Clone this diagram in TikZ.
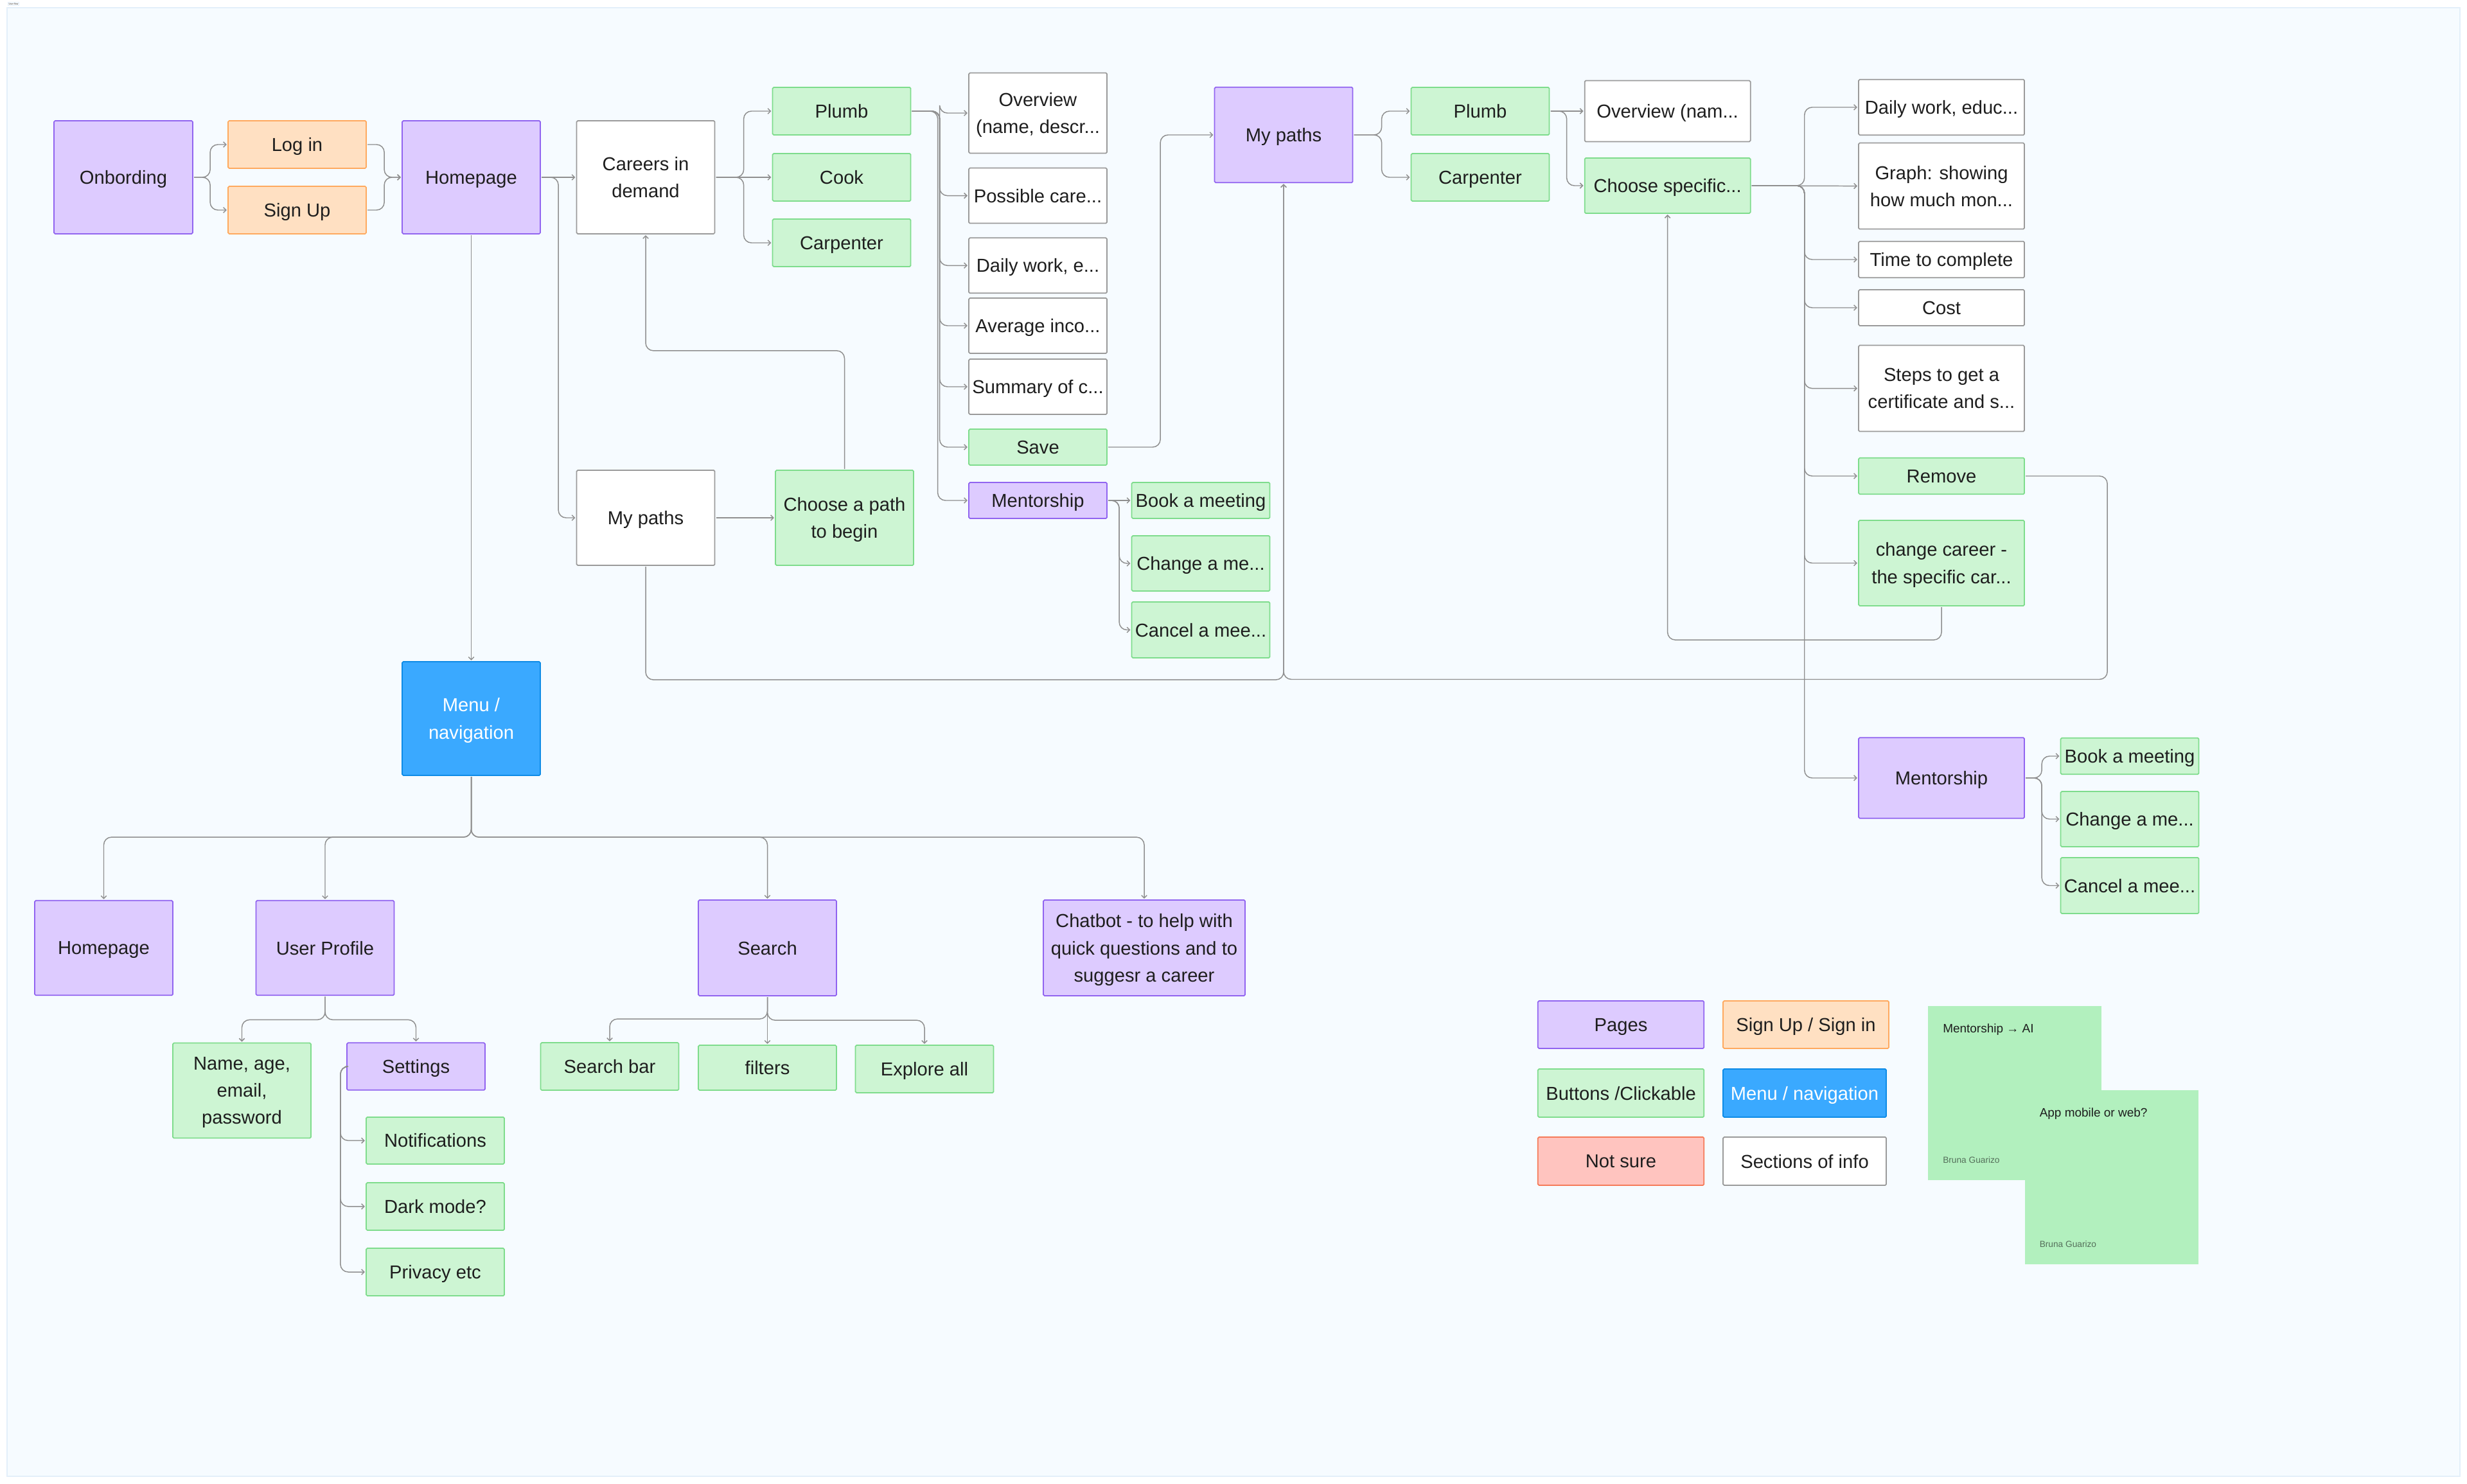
\documentclass[tikz,border=0pt]{standalone}
\usepackage{fontspec}
\setmainfont{Liberation Sans}
\usetikzlibrary{arrows.meta}
\definecolor{panelfill}{HTML}{F6FBFF}
\definecolor{paneledge}{HTML}{E3EFFA}
\definecolor{linkgray}{HTML}{8F8F8F}
\definecolor{inkdark}{HTML}{1E1E1E}
\definecolor{pagefill}{HTML}{DDCBFF}
\definecolor{pageedge}{HTML}{9164F0}
\definecolor{signfill}{HTML}{FFE0C2}
\definecolor{signedge}{HTML}{FFA95E}
\definecolor{btnfill}{HTML}{CDF5D3}
\definecolor{btnedge}{HTML}{7EDC8C}
\definecolor{menufill}{HTML}{3AA9FF}
\definecolor{menuedge}{HTML}{0D8BE6}
\definecolor{unsurefill}{HTML}{FFC4BF}
\definecolor{unsureedge}{HTML}{F57A58}
\definecolor{infoedge}{HTML}{9A9A9A}
\definecolor{stickyfill}{HTML}{B2F0BE}
\definecolor{stickygray}{HTML}{55705B}
\tikzset{
  box/.style={draw,rectangle,rounded corners=0.5pt,line width=0.5pt,inner sep=0pt,outer sep=0.6pt,
    align=center,minimum width=2.15cm,text=inkdark,text depth=0pt,font=\fontsize{8.3}{12}\selectfont},
  page/.style={box,fill=pagefill,draw=pageedge},
  signin/.style={box,fill=signfill,draw=signedge},
  btn/.style={box,fill=btnfill,draw=btnedge},
  menu/.style={box,fill=menufill,draw=menuedge,text=white},
  unsure/.style={box,fill=unsurefill,draw=unsureedge},
  info/.style={box,fill=white,draw=infoedge},
  sticky/.style={rectangle,fill=stickyfill,inner sep=0pt,minimum width=2.7cm,minimum height=2.71cm},
  stickytext/.style={anchor=west,inner sep=0pt,text=inkdark,font=\fontsize{5.4}{7}\selectfont},
  stickyname/.style={anchor=west,inner sep=0pt,text=stickygray,font=\fontsize{3.9}{5}\selectfont},
  link/.style={draw=linkgray,line width=0.42pt,rounded corners=0.12cm,-{Straight Barb[length=1.2pt,width=2.4pt]}}
}
\begin{document}
\begin{tikzpicture}
\useasboundingbox (0,0) rectangle (38.4,-23.1);
\node [rectangle,fill=panelfill,draw=paneledge,line width=0.5pt,inner sep=0pt,minimum width=38.18cm,minimum height=22.86cm] (panel) at (19.2,-11.55) {};
\node [draw=paneledge,fill=white,inner sep=0.3pt,text=inkdark,font=\fontsize{1}{1.2}\selectfont] (title) at (0.21,-0.06) {User flow};
% first row
\node [page,minimum width=2.16cm,minimum height=1.76cm] (onb) at (1.92,-2.76) {Onbording};
\node [signin,minimum height=0.74cm] (login) at (4.625,-2.25) {Log in};
\node [signin,minimum height=0.74cm] (signup) at (4.625,-3.27) {Sign Up};
\node [page,minimum height=1.76cm] (home) at (7.335,-2.76) {Homepage};
\node [info,minimum height=1.76cm] (careers) at (10.05,-2.76) {Careers in\\demand};
\node [btn,minimum height=0.74cm] (plumb) at (13.10,-1.73) {Plumb};
\node [btn,minimum height=0.74cm] (cook) at (13.10,-2.76) {Cook};
\node [btn,minimum height=0.74cm] (carp) at (13.10,-3.78) {Carpenter};
\node [info,minimum height=1.25cm] (ovw) at (16.155,-1.76) {Overview\\(name, descr...};
\node [info,minimum height=0.86cm] (poss) at (16.155,-3.046) {Possible care...};
\node [info,minimum height=0.86cm] (daily) at (16.155,-4.133) {Daily work, e...};
\node [info,minimum height=0.86cm] (avg) at (16.155,-5.07) {Average inco...};
\node [info,minimum height=0.86cm] (summ) at (16.155,-6.02) {Summary of c...};
\node [btn,minimum height=0.56cm] (save) at (16.155,-6.96) {Save};
\node [page,minimum height=0.56cm] (ment) at (16.155,-7.79) {Mentorship};
\node [btn,minimum height=0.56cm] (book) at (18.69,-7.79) {Book a meeting};
\node [btn,minimum height=0.86cm] (chg) at (18.69,-8.77) {Change a me...};
\node [btn,minimum height=0.87cm] (cancel) at (18.69,-9.805) {Cancel a mee...};
\node [info,minimum height=1.48cm] (mypw) at (10.05,-8.06) {My paths};
\node [btn,minimum height=1.48cm] (choose) at (13.145,-8.06) {Choose a path\\to begin};
% second flow
\node [page,minimum height=1.485cm] (myp) at (19.98,-2.10) {My paths};
\node [btn,minimum height=0.74cm] (plumbb) at (23.04,-1.73) {Plumb};
\node [btn,minimum height=0.74cm] (carpb) at (23.04,-2.76) {Carpenter};
\node [info,minimum width=2.58cm,minimum height=0.95cm] (ovwb) at (25.956,-1.73) {Overview (nam...};
\node [btn,minimum width=2.58cm,minimum height=0.86cm] (spec) at (25.956,-2.89) {Choose specific...};
\node [info,minimum width=2.58cm,minimum height=0.865cm] (dailyb) at (30.22,-1.67) {Daily work, educ...};
\node [info,minimum width=2.58cm,minimum height=1.34cm] (graph) at (30.22,-2.896) {Graph: showing\\how much mon...};
\node [info,minimum width=2.58cm,minimum height=0.565cm] (time) at (30.22,-4.04) {Time to complete};
\node [info,minimum width=2.58cm,minimum height=0.56cm] (cost) at (30.22,-4.79) {Cost};
\node [info,minimum width=2.58cm,minimum height=1.34cm] (steps) at (30.22,-6.046) {Steps to get a\\certificate and s...};
\node [btn,minimum width=2.58cm,minimum height=0.565cm] (remove) at (30.22,-7.41) {Remove};
\node [btn,minimum width=2.58cm,minimum height=1.33cm] (change) at (30.22,-8.765) {change career -\\the specific car...};
\node [page,minimum width=2.58cm,minimum height=1.255cm] (mentb) at (30.22,-12.11) {Mentorship};
\node [btn,minimum height=0.565cm] (bookb) at (33.15,-11.77) {Book a meeting};
\node [btn,minimum height=0.86cm] (chgb) at (33.15,-12.75) {Change a me...};
\node [btn,minimum height=0.87cm] (cancelb) at (33.15,-13.785) {Cancel a mee...};
% menu
\node [menu,minimum height=1.77cm] (nav) at (7.335,-11.185) {Menu /\\navigation};
\node [page,minimum height=1.475cm] (homeb) at (1.615,-14.755) {Homepage};
\node [page,minimum height=1.475cm] (user) at (5.06,-14.755) {User Profile};
\node [page,minimum height=1.49cm] (search) at (11.945,-14.755) {Search};
\node [page,minimum width=3.14cm,minimum height=1.49cm] (chat) at (17.81,-14.755) {Chatbot - to help with\\quick questions and to\\suggesr a career};
\node [btn,minimum height=1.48cm] (name) at (3.765,-16.976) {Name, age,\\email,\\password};
\node [page,minimum height=0.735cm] (settings) at (6.475,-16.60) {Settings};
\node [btn,minimum height=0.73cm] (notif) at (6.775,-17.754) {Notifications};
\node [btn,minimum height=0.74cm] (dark) at (6.775,-18.78) {Dark mode?};
\node [btn,minimum height=0.74cm] (priv) at (6.775,-19.80) {Privacy etc};
\node [btn,minimum height=0.74cm] (sbar) at (9.49,-16.60) {Search bar};
\node [btn,minimum height=0.70cm] (filters) at (11.945,-16.62) {filters};
\node [btn,minimum height=0.74cm] (explore) at (14.39,-16.64) {Explore all};
% legend
\node [page,minimum width=2.585cm,minimum height=0.74cm] (lpages) at (25.23,-15.95) {Pages};
\node [signin,minimum width=2.58cm,minimum height=0.74cm] (lsign) at (28.11,-15.95) {Sign Up / Sign in};
\node [btn,minimum width=2.585cm,minimum height=0.75cm] (lbtn) at (25.23,-17.015) {Buttons /Clickable};
\node [menu,minimum width=2.54cm,minimum height=0.75cm] (lmenu) at (28.09,-17.015) {Menu / navigation};
\node [unsure,minimum width=2.585cm,minimum height=0.75cm] (lunsure) at (25.23,-18.075) {Not sure};
\node [info,minimum width=2.54cm,minimum height=0.75cm] (linfo) at (28.09,-18.075) {Sections of info};
\node [sticky] (notea) at (31.36,-17.015) {};
\node [sticky] (noteb) at (32.865,-18.325) {};
\node [stickytext] (noteatext) at (30.235,-16.03) {Mentorship → AI};
\node [stickyname] (noteaname) at (30.235,-18.06) {Bruna Guarizo};
\node [stickytext] (notebtext) at (31.74,-17.34) {App mobile or web?};
\node [stickyname] (notebname) at (31.74,-19.37) {Bruna Guarizo};
% links
\draw [link] (onb.east) -- ++(0.25,0) |- (login.west);
\draw [link] (onb.east) -- ++(0.25,0) |- (signup.west);
\draw [link] (login.east) -- ++(0.26,0) |- (home.west);
\draw [link] (signup.east) -- ++(0.26,0) |- (home.west);
\draw [link] (home.east) -- (careers.west);
\draw [link] (home.east) -- ++(0.26,0) |- (mypw.west);
\draw [link] (home.south) -- (nav.north);
\draw [link] (careers.east) -- ++(0.43,0) |- (plumb.west);
\draw [link] (careers.east) -- (cook.west);
\draw [link] (careers.east) -- ++(0.43,0) |- (carp.west);
\draw [link] (plumb.east) -- ++(0.43,0) |- (ovw.west);
\draw [link] (plumb.east) -- ++(0.43,0) |- (poss.west);
\draw [link] (plumb.east) -- ++(0.43,0) |- (daily.west);
\draw [link] (plumb.east) -- ++(0.43,0) |- (avg.west);
\draw [link] (plumb.east) -- ++(0.43,0) |- (summ.west);
\draw [link] (plumb.east) -- ++(0.43,0) |- (save.west);
\draw [link] (plumb.east) -- ++(0.40,0) |- (ment.west);
\draw [link] (save.east) -- ++(0.81,0) |- (myp.west);
\draw [link] (ment.east) -- (book.west);
\draw [link] (ment.east) -- ++(0.17,0) |- (chg.west);
\draw [link] (ment.east) -- ++(0.17,0) |- (cancel.west);
\draw [link] (mypw.east) -- (choose.west);
\draw [link] (choose.north) -- ++(0,1.84) -| (careers.south);
\draw [link] (mypw.south) -- ++(0,-1.76) -| (myp.south);
\draw [link] (remove.east) -- ++(1.27,0) -- ++(0,-3.165) -| (myp.south);
\draw [link] (myp.east) -- ++(0.43,0) |- (plumbb.west);
\draw [link] (myp.east) -- ++(0.43,0) |- (carpb.west);
\draw [link] (plumbb.east) -- (ovwb.west);
\draw [link] (plumbb.east) -- ++(0.25,0) |- (spec.west);
\draw [link] (spec.east) -- ++(0.82,0) |- (dailyb.west);
\draw [link] (spec.east) -- (graph.west);
\draw [link] (spec.east) -- ++(0.82,0) |- (time.west);
\draw [link] (spec.east) -- ++(0.82,0) |- (cost.west);
\draw [link] (spec.east) -- ++(0.82,0) |- (steps.west);
\draw [link] (spec.east) -- ++(0.82,0) |- (remove.west);
\draw [link] (spec.east) -- ++(0.82,0) |- (change.west);
\draw [link] (spec.east) -- ++(0.82,0) |- (mentb.west);
\draw [link] (change.south) -- ++(0,-0.51) -| (spec.south);
\draw [link] (mentb.east) -- ++(0.25,0) |- (bookb.west);
\draw [link] (mentb.east) -- ++(0.25,0) |- (chgb.west);
\draw [link] (mentb.east) -- ++(0.25,0) |- (cancelb.west);
\draw [link] (nav.south) -- ++(0,-0.94) -| (homeb.north);
\draw [link] (nav.south) -- ++(0,-0.94) -| (user.north);
\draw [link] (nav.south) -- ++(0,-0.94) -| (search.north);
\draw [link] (nav.south) -- ++(0,-0.94) -| (chat.north);
\draw [link] (user.south) -- ++(0,-0.36) -| (name.north);
\draw [link] (user.south) -- ++(0,-0.36) -| (settings.north);
\draw [link] (settings.west) -- ++(-0.08,0) |- (notif.west);
\draw [link] (settings.west) -- ++(-0.08,0) |- (dark.west);
\draw [link] (settings.west) -- ++(-0.08,0) |- (priv.west);
\draw [link] (search.south) -- ++(0,-0.34) -| (sbar.north);
\draw [link] (search.south) -- (filters.north);
\draw [link] (search.south) -- ++(0,-0.36) -| (explore.north);
\end{tikzpicture}
\end{document}
